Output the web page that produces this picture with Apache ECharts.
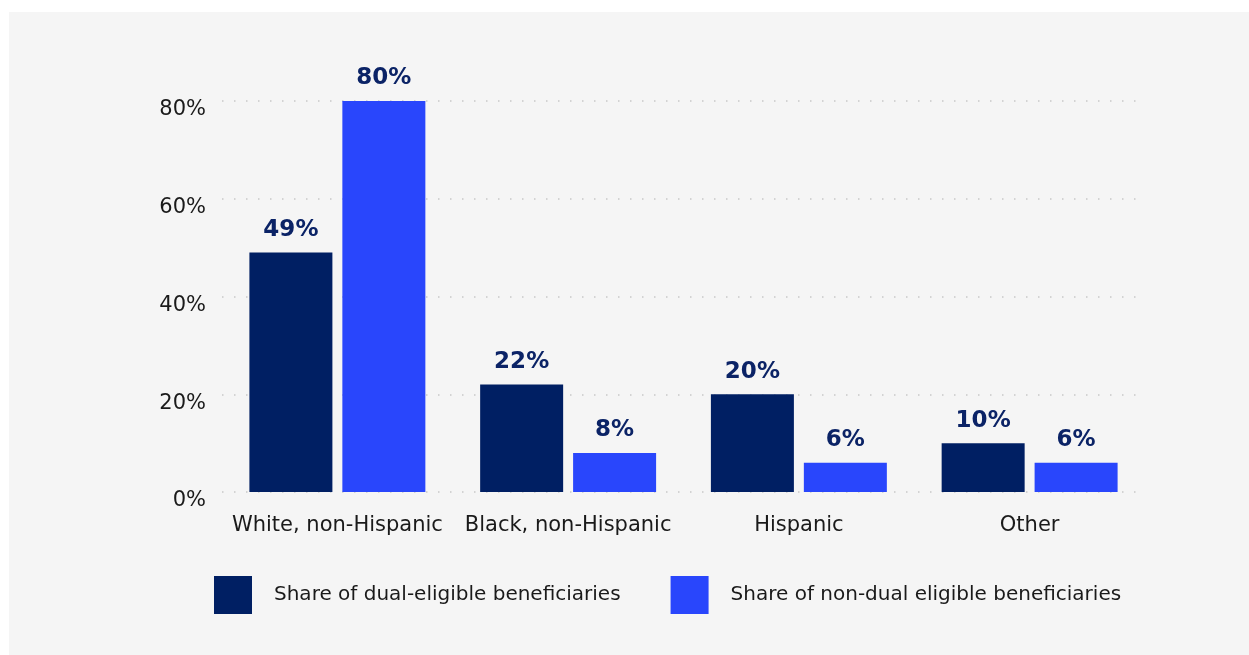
<!DOCTYPE html>
<html>
<head>
<meta charset="utf-8">
<script src="https://cdn.jsdelivr.net/npm/echarts@6/dist/echarts.min.js"></script>
<style>
html,body{margin:0;padding:0;background:#ffffff;}
#chart{width:1249px;height:655px;}
</style>
</head>
<body>
<div id="chart"></div>
<script>
const categories = ["White, non-Hispanic", "Black, non-Hispanic", "Hispanic", "Other"];
const dualEligible = [49, 22, 20, 10];
const nonDualEligible = [80, 8, 6, 6];
const seriesNames = ["Share of dual-eligible beneficiaries", "Share of non-dual eligible beneficiaries"];
const yTicks = [0, 20, 40, 60, 80];

const FONT = "'DejaVu Sans', sans-serif";
const chart = echarts.init(document.getElementById('chart'));
const labelStyle = {
  show: true, position: 'top', distance: 11,
  formatter: p => p.value + '%',
  fontFamily: FONT, fontWeight: 'bold', fontSize: 23, color: '#0b2366'
};
chart.setOption({
  backgroundColor: '#ffffff',
  animation: false,
  textStyle: { fontFamily: FONT },
  graphic: [{
    type: 'rect', z: -10, silent: true,
    shape: { x: 9, y: 12, width: 1240, height: 643 },
    style: { fill: '#f5f5f5' }
  }],
  grid: { left: 222, right: 104, top: 101, bottom: 163 },
  legend: {
    left: 214, top: 576, padding: 0,
    itemWidth: 38, itemHeight: 38, itemGap: 50,
    icon: 'rect',
    textStyle: { fontFamily: FONT, fontSize: 20, color: '#1a1a1a', padding: [0, 0, 0, 17] },
    data: seriesNames
  },
  xAxis: {
    type: 'category', data: categories,
    axisLine: { show: false }, axisTick: { show: false },
    axisLabel: { interval: 0, fontFamily: FONT, fontSize: 21, color: '#1a1a1a', margin: 23 }
  },
  yAxis: {
    type: 'value', min: 0, max: 80, interval: 20,
    axisLabel: { formatter: v => yTicks.includes(v) ? v + '%' : '', fontFamily: FONT, fontSize: 21, color: '#1a1a1a', margin: 16, verticalAlign: 'top', lineHeight: 18 },
    axisLine: { show: false }, axisTick: { show: false },
    splitLine: { lineStyle: { color: '#c8c8c8', width: 1.5, type: [1.5, 10.5] } }
  },
  series: [
    { name: seriesNames[0], type: 'bar', data: dualEligible, barWidth: 83, barGap: '12%',
      itemStyle: { color: '#001f63' }, label: labelStyle },
    { name: seriesNames[1], type: 'bar', data: nonDualEligible, barWidth: 83, barGap: '12%',
      itemStyle: { color: '#2946fc' }, label: labelStyle }
  ]
});
</script>
</body>
</html>
